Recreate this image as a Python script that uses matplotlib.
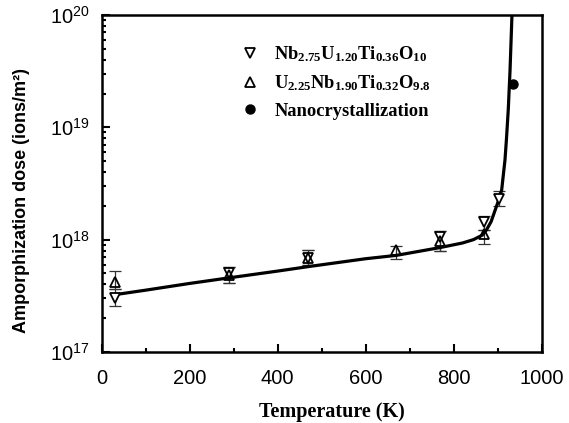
import matplotlib
matplotlib.use("Agg")
import matplotlib.pyplot as plt
from matplotlib.lines import Line2D
from matplotlib.ticker import FixedLocator, LogLocator, NullFormatter
import numpy as np

plt.rcParams['font.family'] = ['Liberation Sans', 'DejaVu Sans']
plt.rcParams['mathtext.fontset'] = 'custom'
plt.rcParams['mathtext.rm'] = 'Liberation Sans'
plt.rcParams['mathtext.it'] = 'Liberation Sans:italic'
plt.rcParams['mathtext.bf'] = 'Liberation Serif:bold'

# ---- data ----
# Nb2.75U1.20Ti0.36O10 (down triangles)
t_nb = [30, 290, 470, 770, 870, 904]
d_nb = [3.0e17, 5.0e17, 6.9e17, 1.05e18, 1.45e18, 2.3e18]
lo_nb = [2.57e17, 4.1e17, 6.0e17, 8.0e17, 1.23e18, 2.0e18]
hi_nb = [3.6e17, 5.7e17, 8.1e17, 1.2e18, 1.62e18, 2.7e18]

# U2.25Nb1.90Ti0.32O9.8 (up triangles)
t_u = [30, 290, 470, 670, 770, 870]
d_u = [4.2e17, 4.8e17, 6.9e17, 8.1e17, 9.7e17, 1.12e18]
lo_u = [3.6e17, 4.1e17, 6.0e17, 6.7e17, 8.0e17, 9.2e17]
hi_u = [5.3e17, 5.7e17, 8.1e17, 8.85e17, 1.2e18, 1.23e18]

# Nanocrystallization
t_nano = [935]
d_nano = [2.45e19]

# fitted curve, log10 of dose
t_fit = [30, 100, 200, 290, 400, 470, 600, 670, 770, 820, 845, 865, 875,
         885, 894, 903, 909, 916.6, 920, 924, 928, 932, 933.5]
logd_fit = [17.51, 17.55, 17.61, 17.66, 17.72, 17.76, 17.83, 17.86, 17.93,
            17.97, 18.00, 18.04, 18.09, 18.16, 18.26, 18.36, 18.44, 18.71,
            18.90, 19.155, 19.50, 19.95, 20.10]

x_ticks = [0, 200, 400, 600, 800, 1000]
y_ticks = [1e17, 1e18, 1e19, 1e20]
y_ticklabels = [r'$\mathrm{10^{17}}$', r'$\mathrm{10^{18}}$',
                r'$\mathrm{10^{19}}$', r'$\mathrm{10^{20}}$']
labels = [r'$\mathbf{Nb_{2.75}U_{1.20}Ti_{0.36}O_{10}}$',
          r'$\mathbf{U_{2.25}Nb_{1.90}Ti_{0.32}O_{9.8}}$',
          'Nanocrystallization']

# ---- figure ----
fig = plt.figure(figsize=(5.69, 4.23), dpi=100)
ax = fig.add_axes([0.1787, 0.168, 0.7733, 0.7965])

ax.plot(t_fit, 10 ** np.array(logd_fit), color='black', lw=2.3, zorder=3)

err_kw = dict(fmt='none', ecolor='#333333', elinewidth=0.9, capsize=4.5,
              capthick=0.9, zorder=2)
ax.errorbar(t_nb, d_nb, yerr=[np.array(d_nb) - np.array(lo_nb),
                              np.array(hi_nb) - np.array(d_nb)], **err_kw)
ax.errorbar(t_u, d_u, yerr=[np.array(d_u) - np.array(lo_u),
                            np.array(hi_u) - np.array(d_u)], **err_kw)
ax.plot(t_nb, d_nb, linestyle='none', marker='v', ms=7.5, mfc='white',
        mec='black', mew=1.3, zorder=4)
ax.plot(t_u, d_u, linestyle='none', marker='^', ms=7.5, mfc='none',
        mec='black', mew=1.3, zorder=4)
ax.plot(t_nano, d_nano, linestyle='none', marker='o', ms=6.5, color='black',
        zorder=5)

ax.set_yscale('log')
ax.set_xlim(0, 1000)
ax.set_ylim(1e17, 1e20)
ax.xaxis.set_major_locator(FixedLocator(x_ticks))
ax.xaxis.set_minor_locator(FixedLocator([100, 300, 500, 700, 900]))
ax.set_xticklabels([str(v) for v in x_ticks])
ax.yaxis.set_major_locator(FixedLocator(y_ticks))
ax.set_yticklabels(y_ticklabels)
ax.yaxis.set_minor_locator(LogLocator(base=10, subs=np.arange(2, 10)))
ax.yaxis.set_minor_formatter(NullFormatter())

ax.tick_params(which='both', direction='in', top=False, right=False,
               labelsize=14.5, width=1.5, colors='black')
ax.tick_params(which='major', length=6)
ax.tick_params(which='minor', length=3)
ax.tick_params(axis='x', which='major', pad=12)
ax.tick_params(axis='y', which='major', pad=8.5)
for s in ax.spines.values():
    s.set_linewidth(1.8)

ax.set_xlabel('Temperature (K)', family='Liberation Serif', fontweight='bold',
              fontsize=14.5)
ax.xaxis.set_label_coords(0.523, -0.148)
ax.set_ylabel('Amporphization dose (ions/m²)', fontweight='bold',
              fontsize=13)
ax.yaxis.set_label_coords(-0.163, 0.448)

handles = [
    Line2D([], [], linestyle='none', marker='v', ms=6.5, mfc='white',
           mec='black', mew=1.3),
    Line2D([], [], linestyle='none', marker='^', ms=6.5, mfc='white',
           mec='black', mew=1.3),
    Line2D([], [], linestyle='none', marker='o', ms=6.5, color='black'),
]
leg = ax.legend(handles, labels, loc='upper left',
                bbox_to_anchor=(0.279, 0.963), frameon=False,
                prop={'family': 'Liberation Serif', 'weight': 'bold',
                      'size': 13.3},
                handlelength=1.0, handletextpad=0.8, labelspacing=0.52)

fig.savefig('out.png', dpi=100)
